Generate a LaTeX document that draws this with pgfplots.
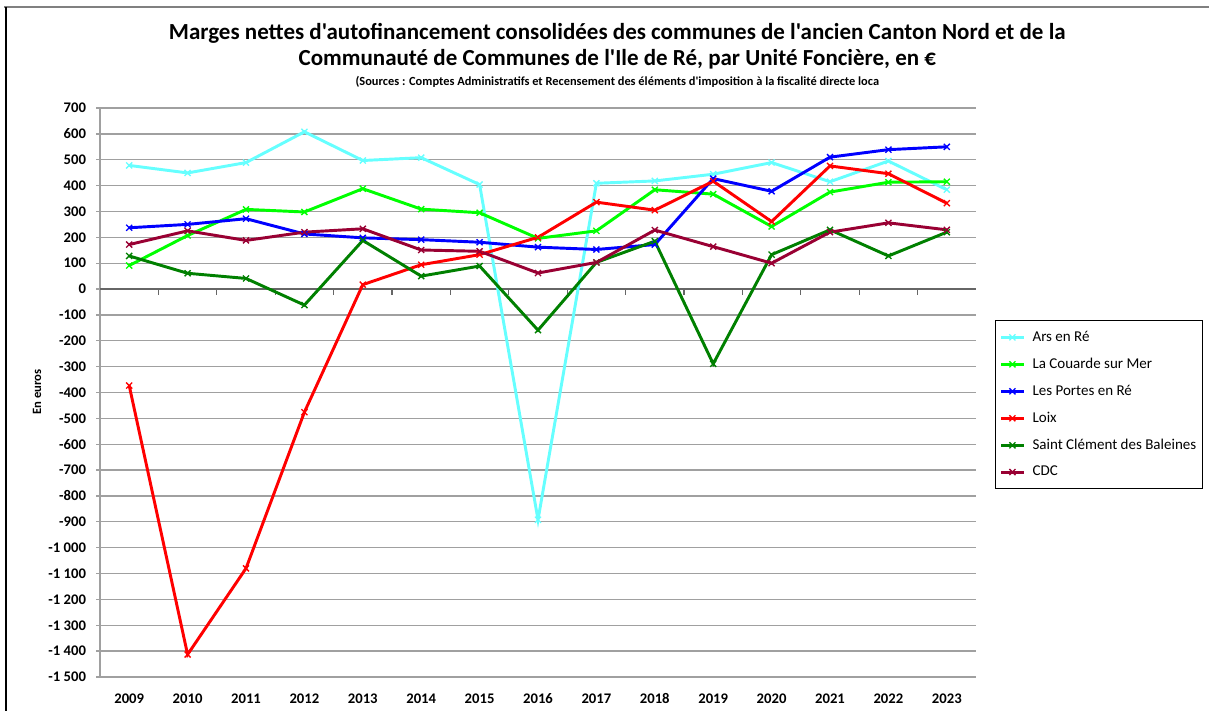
\documentclass[border=0pt]{standalone}
\usepackage{pgfplots}
\pgfplotsset{compat=1.18}
\usepackage{fontspec}
\setmainfont{Carlito}[Ligatures=TeXOff]
\definecolor{cArs}{RGB}{102,255,255}
\definecolor{cCou}{RGB}{0,255,0}
\definecolor{cPor}{RGB}{0,0,255}
\definecolor{cLoi}{RGB}{255,0,0}
\definecolor{cSCl}{RGB}{0,128,0}
\definecolor{cCDC}{RGB}{153,0,51}
\definecolor{gridgray}{RGB}{160,160,160}
\begin{document}
\begin{tikzpicture}
\path[use as bounding box] (0,0) rectangle (906.75pt,-533.25pt);
\draw[gray, line width=1.5pt] (3pt,-5.25pt) -- (906.75pt,-5.25pt);
\draw[black, line width=1.1pt] (4.5pt,-5.25pt) -- (4.5pt,-533.25pt);
\node[font=\bfseries\fontsize{17.25}{20}\selectfont] at (463pt,-24.75pt) {Marges nettes d'autofinancement consolidées des communes de l'ancien Canton Nord et de la};
\node[font=\bfseries\fontsize{17.25}{20}\selectfont] at (463pt,-44.25pt) {Communauté de Communes de l'Ile de Ré, par Unité Foncière, en €};
\node[font=\bfseries\fontsize{9.3}{11}\selectfont] at (463pt,-61.5pt) {(Sources : Comptes Administratifs et Recensement des éléments d'imposition à la fiscalité directe loca};
\node[font=\bfseries\fontsize{9.5}{11}\selectfont, rotate=90] at (27.75pt,-294pt) {En euros};
\begin{axis}[
  at={(75pt,-507.75pt)}, anchor=south west,
  scale only axis, width=657pt, height=426.75pt,
  xmin=-0.5, xmax=14.5, ymin=-1500, ymax=700,
  xtick={0,...,14},
  xticklabels={2009,2010,2011,2012,2013,2014,2015,2016,2017,2018,2019,2020,2021,2022,2023},
  ytick={-1500,-1400,...,700},
  axis x line*=bottom, axis y line*=left,
  axis line style={gridgray, line width=1pt},
  major x tick style={draw=none},
  ytick align=outside, major tick length=3pt,
  major y tick style={gridgray, line width=1pt},
  ymajorgrids, grid style={gridgray, line width=1pt},
  /pgf/number format/assume math mode=true,
  /pgf/number format/1000 sep={\ },
  ticklabel style={font=\bfseries\fontsize{11}{13}\selectfont},
  xticklabel style={yshift=-9pt},
  yticklabel style={xshift=-4pt},
  legend style={at={(1.0217,0.6274)}, anchor=north west, draw=black, line width=0.8pt,
    font=\fontsize{11.25}{13}\selectfont, row sep=7pt, column sep=3.5pt, inner xsep=3pt, inner ysep=6pt},
  legend cell align=left,
  clip=false,
]
\draw[gray!80!black, line width=1pt] (axis cs:-0.5,0) -- (axis cs:14.5,0);
\pgfplotsinvokeforeach{0.5,1.5,...,13.5}{\draw[gray!80!black, line width=1pt] (axis cs:#1,0) -- ++(0pt,-4.5pt);}
\addplot[cArs, line width=2.2pt, mark=x, mark size=3.2pt, mark options={line width=1pt}] coordinates {
(0,478)(1,449)(2,489)(3,608)(4,497)(5,508)(6,404)(7,-892)(8,409)(9,418)(10,444)(11,489)(12,415)(13,495)(14,384)};
\addlegendentry{Ars en Ré}
\addplot[cCou, line width=2.2pt, mark=x, mark size=3.2pt, mark options={line width=1pt}] coordinates {
(0,91)(1,207)(2,308)(3,298)(4,388)(5,309)(6,295)(7,196)(8,225)(9,384)(10,367)(11,242)(12,375)(13,413)(14,415)};
\addlegendentry{La Couarde sur Mer}
\addplot[cPor, line width=2.2pt, mark=x, mark size=3.2pt, mark options={line width=1pt}] coordinates {
(0,237)(1,250)(2,272)(3,213)(4,198)(5,191)(6,181)(7,162)(8,153)(9,172)(10,427)(11,378)(12,510)(13,539)(14,550)};
\addlegendentry{Les Portes en Ré}
\addplot[cLoi, line width=2.2pt, mark=x, mark size=3.2pt, mark options={line width=1pt}] coordinates {
(0,-373)(1,-1413)(2,-1080)(3,-476)(4,17)(5,94)(6,133)(7,200)(8,336)(9,305)(10,417)(11,261)(12,476)(13,446)(14,332)};
\addlegendentry{Loix}
\addplot[cSCl, line width=2.2pt, mark=x, mark size=3.2pt, mark options={line width=1pt}] coordinates {
(0,128)(1,61)(2,41)(3,-62)(4,188)(5,50)(6,89)(7,-159)(8,103)(9,185)(10,-289)(11,133)(12,229)(13,128)(14,220)};
\addlegendentry{Saint Clément des Baleines}
\addplot[cCDC, line width=2.2pt, mark=x, mark size=3.2pt, mark options={line width=1pt}] coordinates {
(0,172)(1,225)(2,188)(3,220)(4,233)(5,151)(6,146)(7,62)(8,103)(9,228)(10,164)(11,100)(12,220)(13,256)(14,229)};
\addlegendentry{CDC}
\end{axis}
\end{tikzpicture}
\end{document}
